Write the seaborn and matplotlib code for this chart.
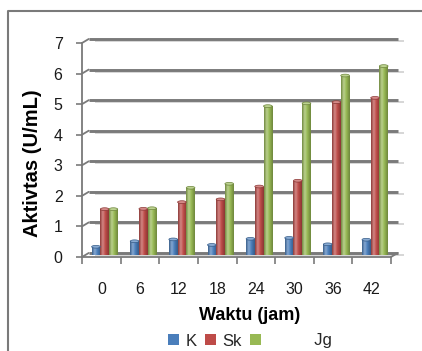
import numpy as np
import pandas as pd
import matplotlib
matplotlib.use("Agg")
import matplotlib.pyplot as plt
import seaborn as sns
from matplotlib import transforms
from matplotlib.colors import LinearSegmentedColormap, to_rgb
from matplotlib.patches import Patch, Ellipse
from matplotlib.lines import Line2D

# Enzyme activity (U/mL) per sampling time
hours = ["0", "6", "12", "18", "24", "30", "36", "42"]
k_vals = [0.27, 0.45, 0.51, 0.33, 0.53, 0.56, 0.35, 0.50]
sk_vals = [1.50, 1.51, 1.73, 1.82, 2.24, 2.43, 5.00, 5.14]
jg_vals = [1.50, 1.53, 2.20, 2.33, 4.87, 4.96, 5.87, 6.18]
series = ["K", "Sk", "Jg"]
legend_labels = ["K", "Sk", "          Jg"]
yticks = [0, 1, 2, 3, 4, 5, 6, 7]
colors = ["#4a7ebb", "#be4b48", "#98b954"]

df = pd.DataFrame({
    "Waktu": hours * 3,
    "Aktivitas": k_vals + sk_vals + jg_vals,
    "Sampel": [s for s in series for _ in hours],
})

sns.set_theme(style="white")
plt.rcParams["font.family"] = ["Liberation Sans", "DejaVu Sans"]

W, H = 422, 351
fig = plt.figure(figsize=(W / 100, H / 100), dpi=100)
left_px, right_px, top_px, bottom_px = 82, 391, 43, 257
ax = fig.add_axes([left_px / W, 1 - bottom_px / H,
                   (right_px - left_px) / W, (bottom_px - top_px) / H])
ax.set_facecolor("none")

sns.barplot(data=df, x="Waktu", y="Aktivitas", hue="Sampel",
            palette=colors, saturation=1, width=0.675, ax=ax,
            legend=False, linewidth=0, zorder=3)
ax.set_xlim(-0.5, 7.5)
ax.set_ylim(0, 7)

grid_c = "#7a7a7a"
# depth offset of the back wall (pixels)
dx_px, dy_px = 6.7, 4.0
dxd = dx_px / ((right_px - left_px) / 8)
dyd = dy_px / ((bottom_px - top_px) / 7)
back = transforms.offset_copy(ax.transData, fig=fig, x=dx_px, y=dy_px, units="dots")
mid = transforms.offset_copy(ax.transData, fig=fig, x=dx_px / 2, y=dy_px / 2, units="dots")
shadow = transforms.offset_copy(ax.transData, fig=fig, x=dx_px, y=dy_px - 2.0, units="dots")

for v in yticks:
    ax.plot([-0.5 + dxd, 7.5 + dxd], [v, v], transform=shadow, color="#d6d6d6",
            lw=1.4, zorder=1, clip_on=False, solid_capstyle="butt")
    ax.plot([-0.5, 7.5], [v, v], transform=back, color=grid_c,
            lw=2.1, zorder=1.2, clip_on=False, solid_capstyle="butt")
    ax.plot([-0.5, -0.5 + dxd], [v, v + dyd], color=grid_c, lw=1.3,
            zorder=1.2, clip_on=False)
ax.plot([7.5, 7.5 + dxd], [0, dyd], color=grid_c, lw=1.3, zorder=1.2, clip_on=False)

# cylinder-like shading on each column
for bar in list(ax.patches):
    x0, w, h = bar.get_x(), bar.get_width(), bar.get_height()
    base = np.array(to_rgb(bar.get_facecolor()))
    dark = base * 0.72
    light = base + (1 - base) * 0.35
    cmap = LinearSegmentedColormap.from_list(
        "cyl", [(0, dark), (0.3, light), (0.6, base), (1, dark)])
    bar.set_transform(mid)
    img = ax.imshow(np.linspace(0, 1, 64)[None, :], extent=(x0, x0 + w, 0, h),
                    cmap=cmap, aspect="auto", interpolation="bicubic",
                    transform=mid, zorder=3.1)
    img.set_clip_path(bar)
    cap = Ellipse((x0 + w / 2, h), w, 0.09, transform=mid,
                  facecolor=light, edgecolor=dark, lw=0.5, zorder=3.2)
    ax.add_patch(cap)

ax.set_xlim(-0.5, 7.5)
ax.set_ylim(0, 7)
ax.set_aspect("auto")

for side in ["top", "right"]:
    ax.spines[side].set_visible(False)
for side in ["left", "bottom"]:
    ax.spines[side].set_color(grid_c)
    ax.spines[side].set_linewidth(1.3)
    ax.spines[side].set_zorder(1.3)

ax.set_yticks(yticks)
ax.set_yticklabels([str(v) for v in yticks])
ax.tick_params(axis="y", length=4, width=1.2, color=grid_c, direction="out",
               pad=10, labelsize=11.5, labelcolor="#1a1a1a", left=True)
ax.set_xticks(range(len(hours)))
ax.set_xticklabels(hours)
ax.set_xticks(np.arange(-0.5, 8, 1), minor=True)
ax.tick_params(axis="x", which="major", length=0, pad=18, labelsize=11.5,
               labelcolor="#1a1a1a")
ax.tick_params(axis="x", which="minor", length=5, width=1.2, color=grid_c,
               direction="out", bottom=True)
ax.set_xlabel("")
ax.set_ylabel("")

fig.text(33 / W, 1 - 163 / H, "Aktivtas (U/mL)", rotation=90, ha="center",
         va="center", fontsize=14.5, fontweight="bold", color="black")
fig.text(250 / W, 1 - 315 / H, "Waktu (jam)", ha="center", va="center",
         fontsize=13, fontweight="bold", color="black")

handles = [Patch(facecolor=c, edgecolor="none") for c in colors]
fig.legend(handles, legend_labels, loc="center", bbox_to_anchor=(250 / W, 1 - 341 / H),
           ncol=3, frameon=False, handlelength=0.65, handleheight=0.65,
           handletextpad=0.4, columnspacing=0.5, fontsize=12, borderpad=0)

# chart-area border
fig.add_artist(Line2D([8 / W, 8 / W, 1], [0, 1 - 11 / H, 1 - 11 / H],
                      transform=fig.transFigure, color=grid_c, lw=1.5))

fig.savefig("out.png", dpi=100)
